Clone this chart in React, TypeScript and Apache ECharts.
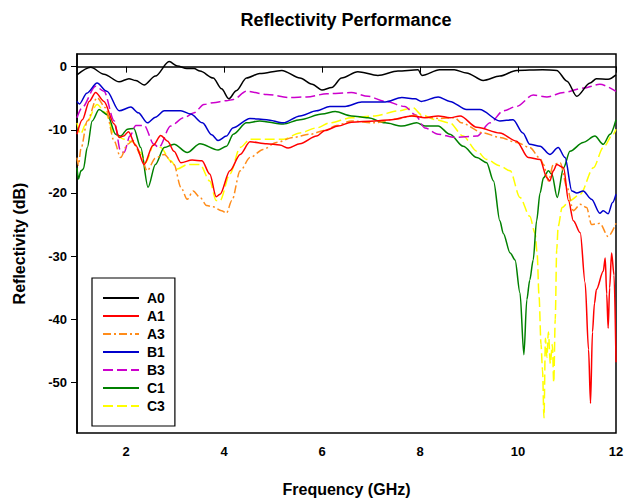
import React, { useEffect, useRef } from "react";
import * as echarts from "echarts";

const seriesNames = ["A0", "A1", "A3", "B1", "B3", "C1", "C3"];
const xTicks = [2, 4, 6, 8, 10, 12];
const yTicks = [0, -10, -20, -30, -40, -50];

const a0 = [[1,-1.3],[1.28,-0.1],[1.55,-1.2],[1.86,-2.4],[2.06,-1.9],[2.2,-2.2],[2.37,-2.9],[2.6,-1.5],[2.88,0.8],[3.05,0.1],[3.24,-0.3],[3.39,-0.3],[3.51,-0.7],[3.78,-1.8],[3.95,-3.5],[4.1,-5.1],[4.25,-3.8],[4.46,-1.8],[4.73,-1.1],[5.18,-0.6],[5.55,-1.8],[5.8,-2.8],[6.0,-3.7],[6.2,-3.3],[6.4,-1.8],[6.73,-0.8],[7.14,-1.4],[7.55,-0.7],[7.96,-0.5],[8.04,-1.4],[8.4,-0.5],[8.7,-0.5],[8.95,-1.0],[9.29,-2.2],[9.63,-1.5],[9.97,-0.6],[10.5,-0.5],[10.79,-0.6],[11.0,-2.3],[11.2,-4.7],[11.47,-2.6],[11.6,-1.9],[11.84,-2.0],[12,-1.3]];
const a1 = [[1,-10.7],[1.11,-8.4],[1.25,-5.5],[1.38,-4.1],[1.55,-5.5],[1.76,-9.1],[1.86,-11.2],[1.95,-11.0],[2.05,-10.3],[2.2,-12.5],[2.37,-15.5],[2.55,-12.5],[2.71,-10.9],[2.85,-11.8],[2.98,-13.4],[3.12,-15.2],[3.35,-14.8],[3.55,-14.9],[3.71,-17.0],[3.84,-20.6],[3.92,-20.2],[4.12,-16.5],[4.33,-13.9],[4.53,-11.9],[4.87,-12.2],[5.14,-12.4],[5.31,-12.9],[5.55,-12.2],[5.89,-11.0],[6.06,-10.1],[6.33,-9.4],[6.6,-8.8],[7.08,-8.6],[7.42,-8.4],[7.83,-7.8],[8.1,-8.1],[8.37,-7.8],[8.61,-8.1],[8.82,-7.8],[9.16,-9.6],[9.63,-10.5],[9.97,-11.8],[10.21,-14.4],[10.45,-14.7],[10.59,-17.6],[10.65,-18.1],[10.72,-16.5],[10.79,-15.5],[10.93,-16.0],[11.03,-21.2],[11.13,-24.4],[11.27,-26.3],[11.37,-34.2],[11.44,-44.8],[11.48,-53.3],[11.52,-42],[11.56,-37.5],[11.6,-35.3],[11.74,-32.4],[11.78,-30.3],[11.81,-36],[11.84,-41.4],[11.87,-35],[11.91,-29.5],[11.96,-33],[12,-46.8]];
const a3 = [[1,-14.4],[1.03,-15.6],[1.08,-13],[1.21,-8.6],[1.41,-4.9],[1.58,-6.5],[1.76,-11.8],[1.89,-14.4],[2.03,-12.3],[2.14,-11.7],[2.3,-14],[2.43,-16.5],[2.6,-14.5],[2.78,-13.9],[2.98,-15.5],[3.12,-19.1],[3.25,-21.0],[3.37,-19.7],[3.51,-20.7],[3.65,-22.0],[3.78,-22.2],[3.95,-22.8],[4.05,-23.2],[4.16,-21.2],[4.33,-16.5],[4.53,-14.4],[4.8,-13.1],[5.07,-12.0],[5.41,-11.2],[5.76,-10.7],[6.06,-10.1],[6.3,-9.3],[6.6,-8.6],[7.08,-8.9],[7.5,-8.3],[7.9,-7.7],[8.1,-8.0],[8.4,-8.2],[8.71,-8.1],[8.84,-8.9],[9.29,-10.5],[9.63,-11.2],[9.97,-12.0],[10.24,-12.8],[10.45,-14.5],[10.52,-15.5],[10.62,-18.1],[10.72,-15.5],[10.86,-15.2],[11.0,-19.1],[11.13,-22.8],[11.27,-21.8],[11.4,-22.3],[11.5,-25],[11.6,-24.9],[11.67,-24.8],[11.84,-26.9],[12,-24.8]];
const b1 = [[1,-5.5],[1.05,-5.9],[1.2,-4.2],[1.41,-2.6],[1.61,-3.9],[1.86,-7.0],[2.1,-6.4],[2.25,-7.3],[2.44,-8.9],[2.6,-8.0],[2.78,-7.0],[3.12,-7.0],[3.32,-7.5],[3.56,-8.9],[3.75,-10.8],[3.88,-11.7],[4.05,-11.0],[4.18,-9.7],[4.53,-8.2],[4.87,-8.4],[5.21,-8.9],[5.55,-7.8],[5.89,-7.0],[6.16,-6.3],[6.47,-6.3],[6.81,-5.6],[7.29,-5.6],[7.63,-4.9],[7.9,-5.1],[8.03,-5.5],[8.37,-4.8],[8.61,-5.5],[8.95,-6.8],[9.22,-6.8],[9.63,-8.6],[9.9,-8.4],[10.1,-10.5],[10.24,-12.3],[10.45,-12.6],[10.65,-13.9],[10.82,-12.8],[10.96,-14.4],[11.1,-19.7],[11.2,-20],[11.33,-19.7],[11.5,-21],[11.67,-23.2],[11.74,-22.8],[11.84,-23.3],[11.93,-21.5],[12,-20.2]];
const b3 = [[1,-8.1],[1.1,-6.5],[1.38,-3.1],[1.55,-3.9],[1.76,-8.6],[1.89,-13.4],[1.96,-13.6],[2.08,-11],[2.2,-9.3],[2.37,-9.3],[2.57,-12.3],[2.67,-12.8],[2.91,-9.4],[3.18,-8.1],[3.39,-7.3],[3.59,-6.0],[3.78,-5.7],[4.05,-5.4],[4.19,-5.2],[4.46,-3.9],[4.87,-4.4],[5.35,-4.9],[5.69,-4.8],[6.1,-4.3],[6.6,-4.1],[6.94,-4.7],[7.29,-5.5],[7.69,-6.3],[7.9,-7.6],[8.1,-9.7],[8.37,-10.7],[8.71,-11.2],[9.16,-11.0],[9.43,-8.9],[9.7,-7.0],[9.97,-6.3],[10.31,-4.5],[10.59,-4.8],[10.93,-4.1],[11.33,-3.4],[11.67,-2.8],[12,-3.9]];
const c1 = [[1,-16.0],[1.03,-17.8],[1.08,-16.5],[1.13,-16.2],[1.21,-12.8],[1.31,-8.6],[1.45,-6.8],[1.62,-7.6],[1.79,-10.7],[1.89,-11.0],[2.03,-9.9],[2.16,-9.8],[2.3,-12.8],[2.45,-19.1],[2.6,-15.5],[2.78,-12.8],[2.98,-12.3],[3.25,-13.6],[3.51,-12.2],[3.88,-13.2],[4.05,-12.6],[4.19,-10.7],[4.46,-8.9],[4.73,-8.6],[5.21,-9.1],[5.55,-8.4],[6.0,-7.5],[6.27,-7.1],[6.6,-7.8],[6.94,-8.1],[7.29,-8.9],[7.63,-9.4],[7.93,-8.9],[8.1,-9.4],[8.37,-9.4],[8.61,-10.7],[8.88,-12.6],[9.16,-14.4],[9.36,-15.2],[9.5,-18.1],[9.63,-24.4],[9.7,-26.4],[9.84,-29.5],[9.94,-30.6],[10.04,-35.8],[10.12,-45.6],[10.18,-36.9],[10.24,-33.8],[10.31,-30.6],[10.38,-24.4],[10.45,-20],[10.52,-17.6],[10.62,-16.5],[10.69,-17.0],[10.8,-20.7],[10.93,-16.0],[11.06,-13.4],[11.33,-12.0],[11.57,-11.0],[11.74,-12.3],[11.88,-10.7],[12,-8.4]];
const c3 = [[1,-8.9],[1.07,-10.7],[1.18,-9.1],[1.41,-6.0],[1.58,-7.3],[1.76,-10.7],[1.96,-11.5],[2.13,-11.9],[2.3,-13.6],[2.4,-15.2],[2.57,-12.3],[2.71,-12.8],[2.91,-14.9],[3.05,-16.2],[3.25,-15.5],[3.51,-15.5],[3.71,-18.1],[3.84,-21.2],[3.92,-21.2],[4.12,-17.0],[4.33,-12.8],[4.53,-11.5],[4.87,-11.5],[5.21,-11.5],[5.55,-10.5],[5.89,-9.7],[6.16,-8.9],[6.6,-8.1],[7.08,-7.8],[7.56,-7.0],[7.86,-6.5],[8.03,-7.6],[8.31,-8.4],[8.61,-8.9],[8.88,-11.0],[9.16,-13.4],[9.36,-14.7],[9.63,-15.7],[9.84,-16.5],[10.04,-20.7],[10.24,-23.7],[10.35,-26.4],[10.39,-29.5],[10.43,-36.4],[10.47,-44],[10.5,-48],[10.53,-55.6],[10.56,-43],[10.59,-46],[10.62,-42],[10.66,-47],[10.7,-44],[10.73,-50],[10.76,-40],[10.79,-29],[10.82,-25.3],[10.9,-22.3],[11.06,-21.2],[11.27,-20.2],[11.54,-16.0],[11.74,-12.8],[11.94,-10.7],[12,-9.9]];

const seriesData = [a0, a1, a3, b1, b3, c1, c3];
const colors = ["#000000", "#ff0000", "#ff8c1a", "#0000cc", "#cc00cc", "#008000", "#ffff00"];
const dashes: any[] = ["solid", "solid", [8, 3, 2, 3], "solid", [10, 4], "solid", [10, 4]];

const FONT = "'Liberation Sans', Arial, sans-serif";

export default function App() {
  const ref = useRef<HTMLDivElement>(null);
  useEffect(() => {
    if (!ref.current) return;
    const chart = echarts.init(ref.current, null, { renderer: "svg" });
    chart.setOption({
      animation: false,
      backgroundColor: "#ffffff",
      textStyle: { fontFamily: FONT },
      graphic: [
        {
          type: "text",
          x: 346,
          y: 11,
          style: {
            text: "Reflectivity Performance",
            font: `bold 18px ${FONT}`,
            fill: "#000",
            textAlign: "center",
            textVerticalAlign: "top",
          },
        },
      ],
      grid: {
        left: 77,
        right: 11,
        top: 54,
        bottom: 66,
        outerBoundsMode: "none",
        containLabel: false,
        show: true,
        borderColor: "#000",
        borderWidth: 1.5,
      },
      legend: {
        orient: "vertical",
        left: 92,
        top: 278,
        padding: [13, 10, 13, 10],
        itemWidth: 36,
        itemHeight: 14,
        itemGap: 4,
        borderColor: "#000",
        borderWidth: 1.2,
        backgroundColor: "#fff",
        itemStyle: { opacity: 0, borderWidth: 0 },
        data: seriesNames,
        textStyle: {
          fontFamily: FONT,
          fontWeight: "bold",
          fontSize: 14,
          lineHeight: 14,
          color: "#000",
          padding: [0, 0, 0, 3],
        },
      },
      xAxis: {
        type: "value",
        min: 1,
        max: 12,
        name: "Frequency (GHz)",
        nameLocation: "middle",
        nameGap: 48,
        nameTextStyle: { fontFamily: FONT, fontWeight: "bold", fontSize: 16, color: "#000" },
        axisLine: { show: true, lineStyle: { color: "#000", width: 1.5 } },
        axisTick: { show: true, inside: false, length: 6, customValues: xTicks, lineStyle: { color: "#000", width: 1 } },
        axisLabel: { customValues: xTicks, fontFamily: FONT, fontWeight: "bold", fontSize: 13, color: "#000", margin: 12 },
        splitLine: { show: false },
      },
      yAxis: {
        type: "value",
        min: -58,
        max: 2,
        name: "Reflectivity (dB)",
        nameLocation: "middle",
        nameGap: 50,
        nameTextStyle: { fontFamily: FONT, fontWeight: "bold", fontSize: 16, color: "#000" },
        axisLine: { show: true, lineStyle: { color: "#000", width: 1.5 } },
        axisTick: { show: true, inside: false, length: 6, customValues: yTicks, lineStyle: { color: "#000", width: 1 } },
        axisLabel: { customValues: yTicks, fontFamily: FONT, fontWeight: "bold", fontSize: 13, color: "#000", margin: 10 },
        splitLine: { show: false },
      },
      series: seriesNames.map((name, i) => ({
        name,
        type: "line",
        data: seriesData[i],
        symbol: "none",
        showSymbol: false,
        smooth: 0.3,
        smoothMonotone: "x",
        clip: true,
        color: colors[i],
        lineStyle: { color: colors[i], width: 1.5, type: dashes[i] },
        z: 10 - i,
      })),
    });
    return () => chart.dispose();
  }, []);
  return (
    <div
      ref={ref}
      style={{ position: "absolute", left: 0, top: 0, width: 627, height: 499 }}
    />
  );
}
